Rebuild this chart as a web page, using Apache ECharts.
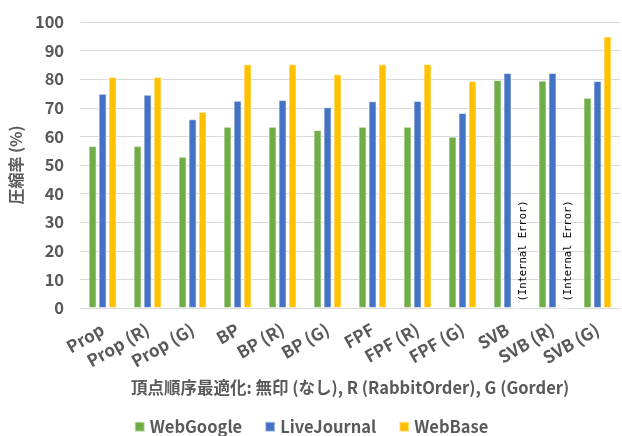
<!DOCTYPE html>
<html>
<head>
<meta charset="utf-8">
<script src="https://cdn.jsdelivr.net/npm/echarts@6/dist/echarts.min.js"></script>
<style>
  html,body{margin:0;padding:0;background:#fff;}
  #chart{width:622px;height:436px;}
</style>
</head>
<body>
<div id="chart"></div>
<script>
// カテゴリと各データセットの圧縮率
const categories = ['Prop','Prop (R)','Prop (G)','BP','BP (R)','BP (G)','FPF','FPF (R)','FPF (G)','SVB','SVB (R)','SVB (G)']
const webGoogle = [56.6,56.6,52.9,63.4,63.4,62.2,63.4,63.4,59.9,79.7,79.5,73.5]
const liveJournal = [74.9,74.6,66.0,72.5,72.7,70.2,72.3,72.4,68.2,82.2,82.2,79.4]
// SVB, SVB (R) は Internal Error のため値なし
const webBase = [80.8,80.8,68.6,85.2,85.2,81.7,85.2,85.3,79.4,null,null,94.9]
const errorText = '(Internal Error)'

const chart = echarts.init(document.getElementById('chart'))
const font = '"Noto Sans CJK JP", "Noto Sans", sans-serif'
const gray = '#595959'

// エラー位置には値0の棒を置き、ラベルだけ表示する
const webBaseData = webBase.map(v => v === null ? {
  value: 0,
  label: {
    show: true,
    position: 'insideBottom',
    rotate: 90,
    align: 'left',
    verticalAlign: 'middle',
    offset: [2, 6],
    formatter: errorText,
    fontFamily: '"DejaVu Sans Mono", monospace',
    fontSize: 10.5,
    color: '#000'
  }
} : v)

const barBase = {
  type: 'bar',
  barWidth: 8,
  barGap: '25%',
  itemStyle: { borderColor: 'rgba(255,255,255,0.6)', borderWidth: 1 }
}

chart.setOption({
  animation: false,
  textStyle: { fontFamily: font },
  grid: { left: 79, right: 2, top: 22, bottom: 128 },
  legend: {
    bottom: -4,
    itemWidth: 10,
    itemHeight: 10,
    itemGap: 22,
    icon: 'rect',
    textStyle: { fontSize: 16.5, color: gray, fontFamily: font, fontWeight: 'bold' },
    data: ['WebGoogle','LiveJournal','WebBase']
  },
  xAxis: {
    type: 'category',
    data: categories,
    name: '頂点順序最適化: 無印 (なし), R (RabbitOrder), G (Gorder)',
    nameLocation: 'middle',
    nameGap: 71,
    nameMoveOverlap: false,
    nameTextStyle: { fontSize: 16.5, color: gray, fontFamily: font, fontWeight: 'bold' },
    axisLine: { lineStyle: { color: '#d9d9d9' } },
    axisTick: { show: false },
    axisLabel: {
      interval: 0,
      rotate: 30,
      fontSize: 17,
      color: gray,
      fontWeight: 'bold',
      margin: 20
    }
  },
  yAxis: {
    type: 'value',
    min: 0,
    max: 100,
    interval: 10,
    name: '圧縮率 (%)',
    nameLocation: 'middle',
    nameGap: 55,
    nameTextStyle: { fontSize: 16, color: gray, fontFamily: font, fontWeight: 'bold' },
    axisLine: { show: false },
    axisTick: { show: false },
    splitLine: { lineStyle: { color: '#d9d9d9' } },
    axisLabel: { fontSize: 16.5, color: gray, fontWeight: 'bold', margin: 16 }
  },
  series: [
    { ...barBase, name: 'WebGoogle', data: webGoogle, itemStyle: { ...barBase.itemStyle, color: '#70AD47' } },
    { ...barBase, name: 'LiveJournal', data: liveJournal, itemStyle: { ...barBase.itemStyle, color: '#4472C4' } },
    { ...barBase, name: 'WebBase', data: webBaseData, itemStyle: { ...barBase.itemStyle, color: '#FFC000' } }
  ]
})
</script>
</body>
</html>
